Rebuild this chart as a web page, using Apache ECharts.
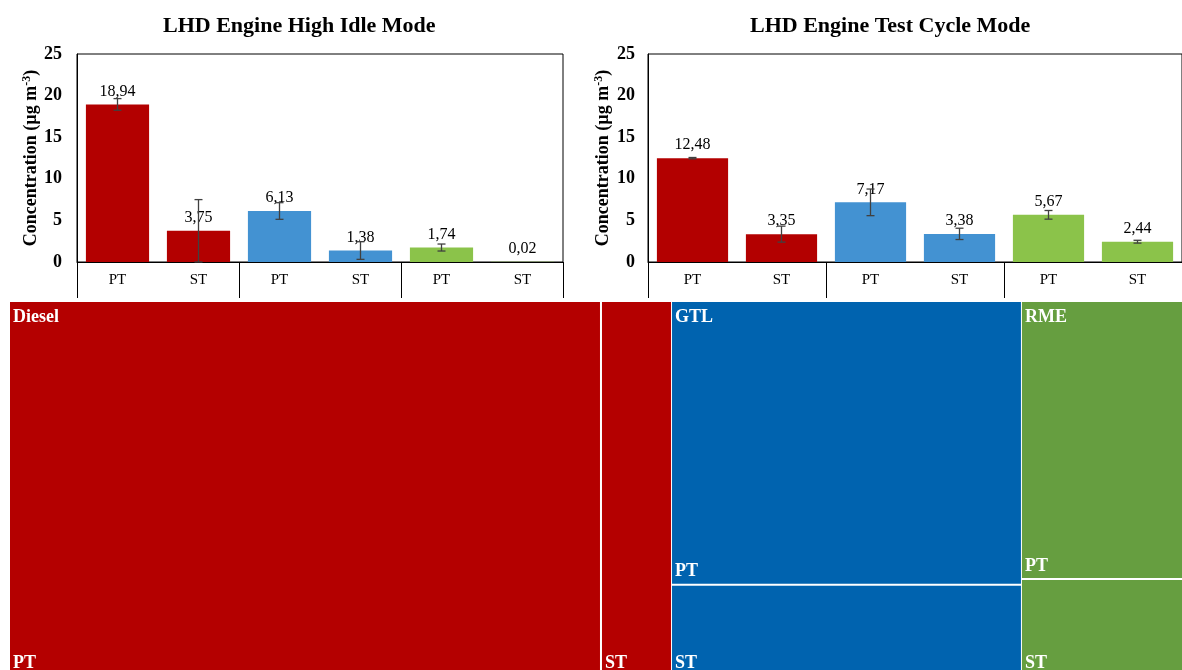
<!DOCTYPE html>
<html>
<head>
<meta charset="utf-8">
<script src="https://cdn.jsdelivr.net/npm/echarts@6/dist/echarts.min.js"></script>
<style>
html,body{margin:0;padding:0;background:#fff;overflow:hidden;}
#c{width:1182px;height:670px;}
</style>
</head>
<body>
<div id="c"></div>
<script>
// ---- data ----
const categories = ['PT', 'ST', 'PT', 'ST', 'PT', 'ST'];
const fuels = ['Diesel', 'Diesel', 'GTL', 'GTL', 'RME', 'RME'];
const idleValues = [18.94, 3.75, 6.13, 1.38, 1.74, 0.02];
const idleErrors = [0.7, 3.75, 1.0, 1.06, 0.42, 0];
const cycleValues = [12.48, 3.35, 7.17, 3.38, 5.67, 2.44];
const cycleErrors = [0.08, 0.96, 1.6, 0.68, 0.52, 0.17];
const yMin = 0, yMax = 25, yStep = 5;
const treeFuels = ['Diesel', 'GTL', 'RME'];
const treePT = [50.0, 22.4, 10.6];
const treeST = [6.0, 7.2, 3.7];

// ---- styles ----
const FONT = 'Liberation Serif';
const barColors = {Diesel: '#B30000', GTL: '#4392D2', RME: '#8BC34A'};
const treeColors = {Diesel: '#B40000', GTL: '#0063AF', RME: '#669E40'};
const CLEAR = 'rgba(0,0,0,0)';

function barData(vals) {
  return vals.map((v, i) => ({value: v, itemStyle: {color: barColors[fuels[i]]}}));
}
function errData(vals, errs) {
  return vals.map((v, i) => [i, v - errs[i], v + errs[i]]).filter((d, i) => errs[i] > 0);
}
function errRender(params, api) {
  const x = api.value(0);
  const top = api.coord([x, api.value(2)]);
  const bot = api.coord([x, Math.max(api.value(1), 0)]);
  const h = 4;
  const st = {stroke: '#404040', lineWidth: 1.3};
  return {type: 'group', children: [
    {type: 'line', shape: {x1: top[0], y1: top[1], x2: bot[0], y2: bot[1]}, style: st},
    {type: 'line', shape: {x1: top[0] - h, y1: top[1], x2: top[0] + h, y2: top[1]}, style: st},
    {type: 'line', shape: {x1: bot[0] - h, y1: bot[1], x2: bot[0] + h, y2: bot[1]}, style: st}
  ]};
}
function xAxisCfg(gi) {
  return {
    type: 'category', gridIndex: gi, data: categories,
    axisLine: {show: true, lineStyle: {color: '#000', width: 1}},
    axisTick: {show: true, length: 36, interval: function (i) { return i % 2 === 0; }, lineStyle: {color: '#000', width: 1}},
    axisLabel: {interval: 0, color: '#000', fontFamily: FONT, fontSize: 15, margin: 11},
    splitLine: {show: false}
  };
}
function yAxisCfg(gi, gap, margin) {
  return {
    type: 'value', gridIndex: gi, min: yMin, max: yMax, interval: yStep,
    name: 'Concentration (µg m{sup|-3})', nameLocation: 'middle', nameGap: gap,
    nameTextStyle: {color: '#000', fontFamily: FONT, fontWeight: 'bold', fontSize: 18,
      rich: {sup: {fontFamily: FONT, fontWeight: 'bold', fontSize: 12, color: '#000', padding: [0, 0, 9, 0]}}},
    axisLine: {show: true, lineStyle: {color: '#000', width: 1}},
    axisTick: {show: false},
    axisLabel: {color: '#000', fontFamily: FONT, fontWeight: 'bold', fontSize: 18, margin: margin},
    splitLine: {show: false}
  };
}
const labelCfg = {
  show: true, position: 'top', distance: 5, color: '#000', fontFamily: FONT, fontSize: 16,
  formatter: p => p.value.toFixed(2).replace('.', ',')
};
const treeLabelFont = {color: '#fff', fontFamily: FONT, fontWeight: 'bold', fontSize: 18};

const chart = echarts.init(document.getElementById('c'), null, {renderer: 'canvas'});
chart.setOption({
  animation: false,
  backgroundColor: '#fff',
  title: [
    {text: 'LHD Engine High Idle Mode', left: 158, top: 10, textStyle: {fontFamily: FONT, fontWeight: 'bold', fontSize: 22, color: '#000'}},
    {text: 'LHD Engine Test Cycle Mode', left: 745, top: 10, textStyle: {fontFamily: FONT, fontWeight: 'bold', fontSize: 22, color: '#000'}}
  ],
  grid: [
    {left: 77, top: 54, width: 486, height: 208, show: true, borderColor: '#000', borderWidth: 1, backgroundColor: 'transparent'},
    {left: 648, top: 54, width: 546, height: 208, show: true, borderColor: '#000', borderWidth: 1, backgroundColor: 'transparent'}
  ],
  xAxis: [xAxisCfg(0), xAxisCfg(1)],
  yAxis: [yAxisCfg(0, 34, 15), yAxisCfg(1, 34, 13)],
  series: [
    {type: 'bar', xAxisIndex: 0, yAxisIndex: 0, barWidth: '78%', data: barData(idleValues), label: labelCfg, z: 2},
    {type: 'bar', xAxisIndex: 1, yAxisIndex: 1, barWidth: '80%', data: barData(cycleValues), label: labelCfg, z: 2},
    {type: 'custom', xAxisIndex: 0, yAxisIndex: 0, renderItem: errRender, data: errData(idleValues, idleErrors), encode: {x: 0, y: [1, 2]}, z: 5, silent: true},
    {type: 'custom', xAxisIndex: 1, yAxisIndex: 1, renderItem: errRender, data: errData(cycleValues, cycleErrors), encode: {x: 0, y: [1, 2]}, z: 5, silent: true},
    {
      type: 'treemap', left: 10, top: 302, width: 1180, height: 373,
      roam: false, nodeClick: false, breadcrumb: {show: false},
      label: Object.assign({show: true, position: 'insideBottomLeft', distance: 0, offset: [-2, 2]}, treeLabelFont),
      upperLabel: {show: false},
      levels: [
        {itemStyle: {gapWidth: 1, borderWidth: 0, borderColor: '#fff'}},
        {itemStyle: {gapWidth: 2, borderWidth: 0, borderColor: '#fff'}},
        {itemStyle: {borderWidth: 0}}
      ],
      data: treeFuels.map((f, i) => ({
        name: f, itemStyle: {color: treeColors[f]},
        children: [
          {name: 'PT', value: treePT[i], itemStyle: {color: treeColors[f]}},
          {name: 'ST', value: treeST[i], itemStyle: {color: treeColors[f]}}
        ]
      }))
    },
    {
      type: 'treemap', left: 10, top: 302, width: 1180, height: 373, z: 5,
      roam: false, nodeClick: false, breadcrumb: {show: false},
      label: Object.assign({show: true, position: 'insideTopLeft', distance: 0, offset: [-2, 1]}, treeLabelFont),
      itemStyle: {color: CLEAR, borderColor: CLEAR, borderWidth: 0},
      levels: [
        {itemStyle: {gapWidth: 1, borderWidth: 0, borderColor: CLEAR, color: CLEAR}},
        {itemStyle: {borderWidth: 0, borderColor: CLEAR, color: CLEAR}}
      ],
      data: treeFuels.map((f, i) => ({
        name: f, value: treePT[i] + treeST[i], itemStyle: {color: CLEAR, borderColor: CLEAR}
      }))
    }
  ]
});
</script>
</body>
</html>
